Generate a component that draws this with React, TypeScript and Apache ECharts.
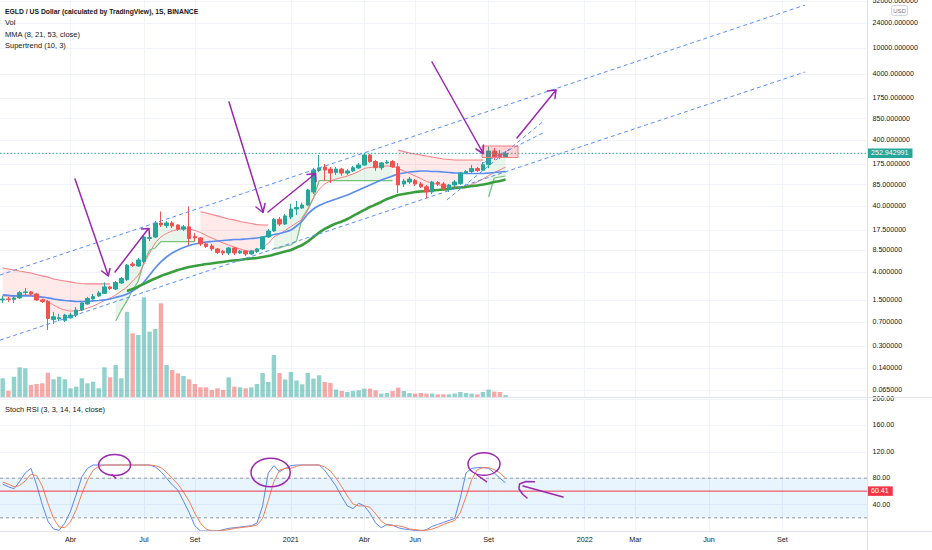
import React, { useEffect, useRef } from 'react';
import * as echarts from 'echarts';

// Weekly bars ("1S"); week index 0 = 2020-01-13
const firstWeek = '2020-01-13';

const open = [1.51, 1.56, 1.54, 1.62, 1.95, 2.0, 1.86, 1.51, 1.43, 0.76, 0.78, 0.74, 0.81, 0.89, 1.06, 1.31, 1.56, 1.73, 1.9, 2.38, 2.21, 2.73, 3.08, 5.3, 4.95, 5.79, 12.9, 13.6, 22.2, 20.3, 22.2, 20.7, 17.9, 19.4, 13.9, 13.2, 10.7, 9.95, 8.96, 8.2, 7.8, 9.28, 7.8, 8.35, 7.52, 8.2, 8.98, 13.6, 16.8, 25.3, 21.4, 27.4, 36.2, 37.5, 41.6, 65.6, 139, 157, 146, 130, 146, 127, 137, 152, 168, 239, 190, 153, 181, 190, 158, 86.7, 93.0, 97.8, 86.7, 78.5, 65.6, 91.0, 86.7, 72.8, 83.7, 88.0, 127, 134, 149, 140, 170, 274, 245, 226];
const close = [1.56, 1.54, 1.62, 1.95, 2.0, 1.86, 1.51, 1.43, 0.79, 0.84, 0.81, 0.89, 0.89, 1.06, 1.36, 1.59, 1.7, 1.93, 2.38, 2.25, 2.78, 3.2, 5.12, 5.03, 6.1, 13.6, 13.4, 22.2, 20.7, 22.2, 20.0, 17.9, 19.4, 12.9, 13.2, 10.7, 9.76, 8.98, 7.93, 7.8, 9.28, 7.8, 8.3, 7.52, 8.35, 8.98, 13.6, 16.8, 25.3, 21.4, 28.4, 36.2, 38.2, 41.6, 70.3, 141, 152, 141, 127, 146, 127, 137, 153, 168, 239, 190, 153, 181, 187, 158, 83.7, 96.2, 103, 86.7, 78.5, 65.6, 93.0, 86.7, 72.8, 83.7, 93.0, 127, 134, 149, 138, 170, 274, 225, 226, 252.942991];
const high = [1.74, 1.68, 1.8, 2.07, 2.29, 2.07, 1.93, 1.56, 1.51, 0.99, 0.93, 0.93, 0.96, 1.18, 1.41, 1.68, 1.86, 2.07, 2.78, 2.46, 2.93, 3.37, 5.3, 5.69, 6.54, 14.6, 15.7, 23.8, 33.2, 23.8, 23.8, 21.4, 20.7, 39.5, 15.7, 13.6, 11.4, 10.7, 9.28, 8.65, 9.6, 9.6, 8.65, 8.65, 8.65, 9.28, 14.1, 18.0, 26.4, 27.4, 30.4, 43.1, 47.9, 45.0, 72.8, 152, 239, 174, 157, 157, 152, 146, 163, 181, 256, 247, 200, 187, 200, 200, 181, 103, 111, 103, 93.0, 83.7, 96.2, 96.2, 93.0, 86.7, 99.7, 132, 141, 168, 157, 187, 320, 305, 284, 274];
const low = [1.36, 1.41, 1.36, 1.56, 1.74, 1.74, 1.46, 1.36, 0.53, 0.65, 0.72, 0.7, 0.78, 0.83, 1.03, 1.27, 1.51, 1.68, 1.86, 2.14, 2.14, 2.64, 2.93, 4.78, 4.78, 5.49, 11.8, 13.1, 19.3, 18.6, 18.6, 16.8, 16.8, 10.3, 11.8, 9.95, 9.28, 8.35, 7.52, 7.26, 7.26, 7.26, 7.52, 7.01, 7.26, 7.79, 8.65, 13.2, 16.2, 20.0, 20.7, 25.5, 29.4, 36.2, 40.2, 61.1, 132, 96.9, 89.8, 119, 115, 119, 132, 146, 163, 181, 137, 141, 174, 152, 63.3, 78.1, 86.7, 80.8, 75.4, 53.2, 61.1, 80.8, 67.9, 65.6, 78.1, 83.7, 123, 127, 132, 137, 151, 200, 207, 222];
// volume, thousands of EGLD
const volume = [187, 63, 203, 297, 287, 120, 130, 137, 243, 177, 203, 177, 87, 103, 187, 137, 153, 87, 297, 197, 320, 187, 853, 637, 620, 997, 653, 680, 937, 320, 270, 237, 210, 177, 130, 97, 97, 70, 87, 70, 197, 103, 97, 87, 97, 130, 240, 150, 420, 240, 175, 250, 165, 127, 240, 184, 217, 150, 140, 74, 60, 50, 60, 67, 84, 84, 67, 34, 40, 60, 94, 60, 40, 34, 40, 34, 34, 27, 27, 27, 34, 50, 40, 34, 27, 50, 74, 54, 50, 20];

const mma8 = [1.735, 1.735, 1.735, 1.77, 1.8, 1.8, 1.735, 1.62, 1.41, 1.267, 1.14, 1.064, 1.027, 1.027, 1.064, 1.14, 1.22, 1.335, 1.48, 1.62, 1.8, 2.07, 2.38, 2.93, 3.61, 5.3, 7.79, 11.04, 13.6, 15.4, 16.8, 17.7, 18.3, 18.0, 17.1, 15.9, 14.35, 13.15, 12.05, 11.04, 10.3, 9.6, 8.96, 8.5, 8.21, 8.65, 9.6, 10.85, 13.6, 15.1, 17.1, 19.65, 22.2, 25.5, 35.0, 53.2, 71.5, 86.7, 96.2, 103.2, 108.8, 114.6, 122.9, 134.1, 149, 154.3, 157, 159.7, 162.5, 159.7, 149, 136.5, 125.1, 114.6, 105.0, 94.6, 89.8, 85.2, 80.8, 79.4, 78.1, 78.1, 80.8, 85.2, 93.0, 103.2, 116.6, 129.5, 141.4, 157];
const mma21 = [1.8, 1.77, 1.735, 1.735, 1.735, 1.735, 1.705, 1.675, 1.62, 1.56, 1.51, 1.48, 1.457, 1.43, 1.43, 1.43, 1.457, 1.48, 1.51, 1.56, 1.65, 1.735, 1.86, 2.07, 2.34, 2.83, 3.61, 4.61, 5.69, 6.77, 7.79, 8.65, 9.44, 10.13, 10.66, 11.04, 11.43, 11.63, 11.84, 12.05, 12.26, 12.48, 12.48, 12.7, 12.92, 13.15, 13.6, 14.1, 14.85, 15.4, 16.2, 17.4, 20.0, 23.8, 30.4, 36.2, 40.9, 44.6, 47.9, 51.3, 55.1, 59.0, 64.4, 70.3, 76.7, 83.7, 91.4, 99.7, 106.9, 114.6, 122.9, 127.3, 131.8, 134.1, 136.5, 136.5, 134.1, 134.1, 131.8, 129.5, 127.3, 127.3, 125.1, 125.1, 125.1, 125.1, 127.3, 129.5, 131.8, 134.1];
const mma53 = [null, null, null, null, null, null, null, null, null, null, null, null, null, null, null, null, null, null, null, null, null, null, 2.07, 2.21, 2.42, 2.64, 2.93, 3.2, 3.49, 3.74, 4.01, 4.3, 4.53, 4.78, 4.95, 5.12, 5.3, 5.4, 5.59, 5.69, 5.89, 6.0, 6.1, 6.32, 6.43, 6.54, 6.77, 7.01, 7.39, 7.79, 8.21, 8.65, 9.44, 10.3, 11.63, 13.6, 15.9, 18.0, 20.0, 21.8, 23.4, 25.5, 28.4, 31.5, 35.0, 38.8, 42.3, 46.2, 51.3, 55.1, 59.0, 61.1, 63.3, 65.6, 66.7, 67.9, 69.1, 70.3, 71.5, 72.8, 75.4, 76.7, 78.1, 80.8, 82.2, 85.2, 88.2, 93.0, 96.2, 101.4];

// Supertrend (10, 3) line value per week, and its trend runs [from, to, direction]
const supertrend = [4.61, 4.45, 4.3, 4.15, 4.01, 3.87, 3.67, 3.49, 3.37, 3.14, 3.03, 2.93, 2.83, 2.73, 2.68, 2.64, 2.64, 2.64, 2.64, 2.64, 0.725, 1.06, 1.46, 2.14, 2.93, 5.69, 8.65, 9.28, 11.6, 11.6, 11.6, 11.6, 11.6, 11.6, 11.6, 32.9, 31.5, 29.9, 28.4, 26.9, 25.5, 24.7, 23.4, 22.6, 21.8, 21.0, 20.7, 20.7, 9.12, 9.28, 9.95, 10.3, 11.8, 26.4, 36.2, 53.2, 97.2, 97.2, 97.2, 97.2, 97.2, 97.2, 97.2, 97.2, 97.2, 97.2, 97.2, 97.2, 97.2, 97.2, 284, 268, 256, 247, 238.7, 230.5, 222.6, 214.9, 207.6, 204, 200.4, 200.4, 200.4, 200.4, 200.4, 200.4, 55.1, 106.9, 110.7, 114.6];
const stRuns = [[0, 19, -1], [20, 34, 1], [35, 47, -1], [48, 69, 1], [70, 85, -1], [86, 89, 1]];

// Stoch RSI (3, 3, 14, 14, close)
const stochK = [71, 67, 64, 75, 88, 95, 70, 40, 15, 3, 1, 12, 30, 55, 82, 95, 100, 100, 100, 100, 100, 100, 100, 100, 100, 100, 100, 97, 90, 80, 70, 62, 45, 28, 8, 0, 0, 0, 0, 2, 4, 5, 6, 7, 8, 12, 38, 88, 99, 90, 95, 99, 100, 100, 100, 100, 100, 92, 80, 68, 52, 38, 34, 42, 38, 27, 12, 5, 10, 9, 5, 3, 2, 1, 0, 2, 7, 10, 13, 16, 19, 50, 88, 95, 96, 96, 95, 88, 80, 73];
const stochD = [74, 71, 67, 69, 76, 86, 84, 68, 42, 19, 6, 5, 14, 32, 56, 77, 92, 98, 100, 100, 100, 100, 100, 100, 100, 100, 100, 99, 96, 89, 80, 71, 59, 45, 27, 12, 3, 0, 0, 1, 2, 4, 5, 6, 7, 9, 19, 46, 75, 92, 95, 95, 98, 100, 100, 100, 100, 97, 91, 80, 67, 53, 41, 38, 38, 36, 26, 15, 9, 8, 8, 6, 3, 2, 1, 1, 3, 6, 10, 13, 16, 28, 52, 78, 93, 96, 96, 93, 88, 80];

const priceTicks = [52000, 24000, 10000, 4000, 1750, 850, 400, 175, 85, 40, 17.5, 8.5, 4, 1.5, 0.7, 0.3, 0.14, 0.065];
const stochTicks = [40, 80, 120, 160, 200];
const stochBands = [20, 80];
const timeTickWeeks = [12, 25, 34, 51, 64, 73, 86, 103, 112, 125, 138];
const timeTickLabels = ['Abr', 'Jul', 'Set', '2021', 'Abr', 'Jun', 'Set', '2022', 'Mar', 'Jun', 'Set'];
const lastPrice = 252.942991;
const stochLevel = 60.41;

// drawn trend lines [week, price]
const channelUpper = [[-0.5, 3.6], [142, 45000]];
const channelLower = [[-0.5, 0.37], [142, 4330]];
const wedgeA = [[78.6, 49.6], [95.6, 763]];
const wedgeB = [[85, 180.5], [95.6, 514]];

const FONT = "'Liberation Sans', Arial, sans-serif";
const TXT = '#131722';
const GRIDC = '#f0f3fa';
const PURPLE = '#9c27b0';
const TEAL = '#26a69a';
const RED = '#f23645';
const X_MIN = -0.478;
const X_MAX = 152.97;
const Y_MIN = -1.2933;
const Y_MAX = 4.7291;

const lg = (v: number) => Math.log10(v);

function fmtPrice(v: number) {
  for (const t of priceTicks) if (Math.abs(lg(t) - v) < 1e-6) return t.toFixed(6);
  return '';
}

function buildOption(): any {
  const idx = open.map((_, i) => i);
  const candles = idx.map((i) => [i, lg(open[i]), lg(close[i]), lg(low[i]), lg(high[i])]);
  const vol = idx.map((i) => ({
    value: [i, volume[i]],
    itemStyle: { color: close[i] >= open[i] ? 'rgba(38,166,154,0.5)' : 'rgba(239,83,80,0.5)' },
  }));
  const toLine = (arr: any[]) => arr.map((v, i) => (v == null ? null : [i, lg(v)])).filter((p) => p);
  const trendLine = (pts: number[][]) => pts.map((p) => [p[0], lg(p[1])]);

  const stLines = stRuns.map(([a, b, dir]) => {
    const data: number[][] = [];
    for (let i = a; i <= b; i++) data.push([i, lg(supertrend[i])]);
    return {
      type: 'line', xAxisIndex: 0, yAxisIndex: 0, data, symbol: 'none', silent: true, z: 3,
      lineStyle: { width: 1.2, color: dir > 0 ? 'rgba(76,175,80,0.75)' : 'rgba(242,54,69,0.6)' },
    };
  });

  const dash = (data: number[][]) => ({
    type: 'line', xAxisIndex: 0, yAxisIndex: 0, data: trendLine(data), symbol: 'none', silent: true, z: 6,
    lineStyle: { color: '#5b8ff9', width: 1, type: [4, 3] },
  });

  // full-width horizontal level drawn as a 2-point line series
  const level = (xAxisIndex: number, yAxisIndex: number, y: number, color: string, type: any, tag?: string) => ({
    type: 'line', xAxisIndex, yAxisIndex, data: [[X_MIN, y], [X_MAX, y]], symbol: 'none', silent: true, z: 6,
    color,
    lineStyle: { color, type, width: 1, opacity: 1 },
    endLabel: tag
      ? {
          show: true, formatter: tag, distance: 0, color: '#ffffff', backgroundColor: color,
          padding: [1.5, 4, 1, 4], fontSize: 7.1, fontFamily: FONT,
        }
      : { show: false },
  });

  const poly = (points: number[][]) => ({
    type: 'polyline', z: 100, silent: true, shape: { points },
    style: { stroke: PURPLE, lineWidth: 1.5, fill: 'none', lineCap: 'round', lineJoin: 'round' },
  });
  const txt = (x: number, y: number, text: string, extra: any = {}) => ({
    type: 'text', x, y, z: 100, silent: true,
    style: { text, fill: TXT, fontSize: 7.5, fontFamily: FONT, verticalAlign: 'middle', ...extra },
  });
  const hline = (x1: number, y1: number, x2: number, y2: number) => ({
    type: 'line', z: 90, silent: true, shape: { x1, y1, x2, y2 }, style: { stroke: '#e0e3eb', lineWidth: 1 },
  });

  const axisLabelBase = { color: TXT, fontSize: 7.1, fontFamily: FONT };

  return {
    animation: false,
    backgroundColor: '#ffffff',
    grid: [
      { left: 0, right: 65, top: 0, height: 397, outerBoundsMode: 'none' },
      { left: 0, right: 65, top: 399, height: 132, outerBoundsMode: 'none' },
    ],
    xAxis: [
      {
        type: 'value', gridIndex: 0, min: X_MIN, max: X_MAX,
        axisLine: { show: false }, axisTick: { show: false, customValues: timeTickWeeks },
        axisLabel: { show: false }, splitLine: { show: true, lineStyle: { color: GRIDC } },
      },
      {
        type: 'value', gridIndex: 1, min: X_MIN, max: X_MAX,
        axisLine: { show: false }, axisTick: { show: false, customValues: timeTickWeeks },
        axisLabel: {
          ...axisLabelBase, fontSize: 7.2, margin: 5, customValues: timeTickWeeks,
          formatter: (v: number) => {
            const k = timeTickWeeks.indexOf(Math.round(v));
            return k >= 0 ? timeTickLabels[k] : '';
          },
        },
        splitLine: { show: true, lineStyle: { color: GRIDC } },
      },
    ],
    yAxis: [
      {
        type: 'value', gridIndex: 0, position: 'right', min: Y_MIN, max: Y_MAX,
        axisLine: { show: false }, axisTick: { show: false, customValues: priceTicks.map(lg) },
        axisLabel: { ...axisLabelBase, margin: 5.5, customValues: priceTicks.map(lg), formatter: (v: number) => fmtPrice(v) },
        splitLine: { show: true, lineStyle: { color: GRIDC } },
      },
      { type: 'value', gridIndex: 0, min: 0, max: 3970, show: false, splitLine: { show: false } },
      {
        type: 'value', gridIndex: 1, position: 'right', min: 0, max: 200,
        axisLine: { show: false }, axisTick: { show: false, customValues: stochTicks },
        axisLabel: { ...axisLabelBase, margin: 5.5, customValues: stochTicks, formatter: (v: number) => v.toFixed(2) },
        splitLine: { show: true, lineStyle: { color: GRIDC } },
      },
    ],
    series: [
      {
        type: 'custom', xAxisIndex: 0, yAxisIndex: 0, silent: true, z: 1,
        data: stRuns.map((r) => [r[0], lg(supertrend[r[0]])]),
        encode: { x: 0, y: 1 },
        renderItem: (params: any, api: any) => {
          const [a, b, dir] = stRuns[params.dataIndex];
          const pts: number[][] = [];
          for (let i = a; i <= b; i++) pts.push(api.coord([i, lg(supertrend[i])]));
          for (let i = b; i >= a; i--) pts.push(api.coord([i, lg((open[i] + close[i]) / 2)]));
          return {
            type: 'polygon', shape: { points: pts },
            style: { fill: dir > 0 ? 'rgba(76,175,80,0.12)' : 'rgba(255,82,82,0.13)' },
          };
        },
      },
      {
        type: 'bar', xAxisIndex: 0, yAxisIndex: 1, data: vol, barWidth: 4.4, silent: true, z: 2,
      },
      ...stLines,
      {
        type: 'line', xAxisIndex: 0, yAxisIndex: 0, data: toLine(mma8), symbol: 'none', smooth: 0.25, silent: true, z: 4,
        lineStyle: { color: '#f77c80', width: 1 },
      },
      {
        type: 'line', xAxisIndex: 0, yAxisIndex: 0, data: toLine(mma21), symbol: 'none', smooth: 0.25, silent: true, z: 4,
        lineStyle: { color: '#5b8def', width: 1.7 },
      },
      {
        type: 'line', xAxisIndex: 0, yAxisIndex: 0, data: toLine(mma53), symbol: 'none', smooth: 0.25, silent: true, z: 4,
        lineStyle: { color: '#3a9d3e', width: 2.6 },
      },
      {
        type: 'candlestick', xAxisIndex: 0, yAxisIndex: 0, data: candles, barWidth: 4, silent: true, z: 5,
        encode: { x: 0, y: [1, 2, 3, 4] },
        itemStyle: { color: TEAL, color0: '#ef5350', borderColor: TEAL, borderColor0: '#ef5350', borderWidth: 1 },
      },
      level(0, 0, lg(lastPrice), TEAL, [1.5, 2], lastPrice.toFixed(6)),
      dash(channelUpper),
      dash(channelLower),
      dash(wedgeA),
      dash(wedgeB),
      {
        type: 'line', xAxisIndex: 1, yAxisIndex: 2, data: stochK.map((v, i) => [i, v]), symbol: 'none', silent: true, z: 4,
        lineStyle: { color: '#5b86f2', width: 1 },
        markArea: {
          silent: true,
          itemStyle: { color: 'rgba(33,150,243,0.1)' },
          data: [[{ yAxis: stochBands[0] }, { yAxis: stochBands[1] }]],
        },
      },
      {
        type: 'line', xAxisIndex: 1, yAxisIndex: 2, data: stochD.map((v, i) => [i, v]), symbol: 'none', silent: true, z: 4,
        lineStyle: { color: '#f77d52', width: 1 },
      },
      ...stochBands.map((b) => level(1, 2, b, '#9598a1', [3, 3])),
      level(1, 2, stochLevel, RED, 'solid', stochLevel.toFixed(2)),
    ],
    graphic: [
      hline(0, 397.5, 932, 397.5),
      hline(0, 531.5, 932, 531.5),
      hline(867.5, 0, 867.5, 550),
      txt(5, 11, 'EGLD / US Dollar (calculated by TradingView), 1S, BINANCE', { fontWeight: 'bold', fontSize: 6.8 }),
      txt(5, 22.5, 'Vol'),
      txt(5, 34, 'MMA (8, 21, 53, close)'),
      txt(5, 45.5, 'Supertrend (10, 3)'),
      txt(5, 409.5, 'Stoch RSI (3, 3, 14, 14, close)'),
      {
        type: 'rect', z: 100, silent: true, shape: { x: 891.5, y: 5.5, width: 16, height: 10, r: 2 },
        style: { fill: '#ffffff', stroke: '#d1d4dc', lineWidth: 1 },
      },
      txt(899.5, 10.7, 'USD', { fontSize: 6, fill: '#787b86', align: 'center' }),
      {
        type: 'rect', z: 100, silent: true, shape: { x: 482, y: 146, width: 36, height: 11.5 },
        style: { fill: 'rgba(242,54,69,0.22)', stroke: '#f77c80', lineWidth: 1 },
      },
      poly([[75, 179], [108, 275]]),
      poly([[101.7, 271], [108.3, 276], [110, 268.5]]),
      poly([[115, 272], [148.5, 228.5]]),
      poly([[141.5, 229], [149, 228.5], [149.5, 236]]),
      poly([[229, 102], [263, 212]]),
      poly([[256, 207], [263, 212.5], [265, 203.5]]),
      poly([[268, 212], [315.5, 173.5]]),
      poly([[307, 174.5], [315.5, 173.5], [316, 181.5]]),
      poly([[432, 62], [483, 153]]),
      poly([[476, 149], [483, 153.5], [483.5, 145]]),
      poly([[517, 138], [556, 90]]),
      poly([[547.5, 91], [556, 90], [555, 98.5]]),
      {
        type: 'ellipse', z: 100, silent: true, shape: { cx: 114.6, cy: 465, rx: 16, ry: 10.5 },
        style: { fill: 'none', stroke: PURPLE, lineWidth: 1.5 },
      },
      poly([[112, 474.5], [115.5, 478]]),
      {
        type: 'ellipse', z: 100, silent: true, shape: { cx: 270.6, cy: 472.5, rx: 19.6, ry: 14.3 },
        style: { fill: 'none', stroke: PURPLE, lineWidth: 1.5 },
      },
      {
        type: 'ellipse', z: 100, silent: true, shape: { cx: 484, cy: 464, rx: 16, ry: 11.3 },
        style: { fill: 'none', stroke: PURPLE, lineWidth: 1.5 },
      },
      poly([[477, 475], [486.5, 481.7]]),
      poly([[534.5, 481.7], [526, 481.5], [519.5, 484], [519, 489], [522.5, 494], [527, 498]]),
      poly([[523, 486], [563, 497]]),
    ],
  };
}

export default function App() {
  const ref = useRef<HTMLDivElement>(null);
  useEffect(() => {
    const chart = echarts.init(ref.current as HTMLDivElement, undefined, { renderer: 'svg' });
    chart.setOption(buildOption());
    return () => chart.dispose();
  }, []);
  return (
    <div
      ref={ref}
      data-first-week={firstWeek}
      style={{ position: 'fixed', left: 0, top: 0, width: 932, height: 550, background: '#ffffff' }}
    />
  );
}
